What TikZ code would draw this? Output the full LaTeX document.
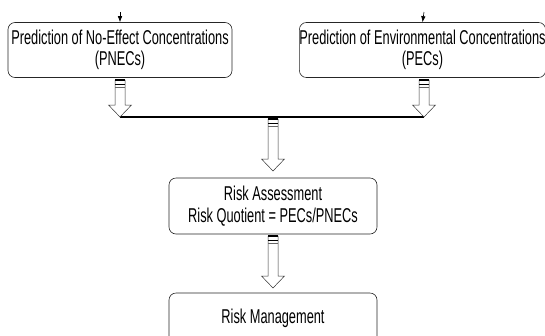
\documentclass[tikz,border=0pt]{standalone}
\usepackage{fontspec}
\setmainfont[FakeStretch=0.64]{Liberation Sans}
\usetikzlibrary{calc,arrows.meta}
\tikzset{
  procbox/.style={draw=black!85, line width=0.6pt, rounded corners=7pt, align=center,
    font=\fontsize{20}{21.5}\selectfont, inner sep=0pt},
  hollowarr/.style={draw=black!80, line width=0.5pt, fill=white},
  stripe/.style={draw=black, line width=1.2pt},
  thinarr/.style={draw=black, line width=0.6pt, -{Latex[length=6pt,width=4.5pt]}},
  bar/.style={draw=black, line width=2pt}
}
\newcommand{\fatarrow}[2]{%
  \draw[hollowarr] let \p1=(#1), \p2=(#2) in
    (\x1-5pt,\y1) -- (\x1-5pt,\y2+12pt) -- (\x1-11.5pt,\y2+12pt) -- (\x2,\y2)
    -- (\x1+11.5pt,\y2+12pt) -- (\x1+5pt,\y2+12pt) -- (\x1+5pt,\y1) -- cycle;
  \draw[stripe] let \p1=(#1) in (\x1-5pt,\y1) -- (\x1+5pt,\y1);
  \draw[stripe, line width=0.8pt] let \p1=(#1) in (\x1-5pt,\y1-4.5pt) -- (\x1+5pt,\y1-4.5pt);
  \draw[stripe, line width=0.4pt, black!60] let \p1=(#1) in (\x1-5pt,\y1-7.5pt) -- (\x1+5pt,\y1-7.5pt);
}
\begin{document}
\begin{tikzpicture}[x=1pt,y=-1pt]
\useasboundingbox (0,0) rectangle (545,335);
\node[procbox, minimum width=224pt, minimum height=55pt] (pnec) at (120,50)
  {Prediction of No-Effect Concentrations\\(PNECs)};
\node[procbox, minimum width=241pt, minimum height=55pt] (pec) at (422.5,50)
  {Prediction of Environmental Concentrations\\(PECs)};
\node[procbox, minimum width=208pt, minimum height=56pt] (ra) at (273,206)
  {Risk Assessment\\Risk Quotient = PECs/PNECs};
\node[procbox, minimum width=208pt, minimum height=50pt] (rm) at (273,318)
  {Risk Management};
\coordinate (inL) at (120,12);
\coordinate (inR) at (424,12);
\draw[thinarr] (inL) -- (pnec.north);
\draw[thinarr] (inR) -- (pec.north);
\coordinate (jL) at (120,117);
\coordinate (jR) at (424,117);
\coordinate (jM) at (273,117);
\draw[bar] (jL) -- (jR);
\coordinate (aL) at (120,80);
\coordinate (aR) at (424,80);
\fatarrow{aL}{jL}
\fatarrow{aR}{jR}
\coordinate (aM) at (273,119);
\coordinate (tM) at (273,171);
\fatarrow{aM}{tM}
\coordinate (aM2) at (273,236);
\coordinate (tM2) at (273,288);
\fatarrow{aM2}{tM2}
\end{tikzpicture}
\end{document}
